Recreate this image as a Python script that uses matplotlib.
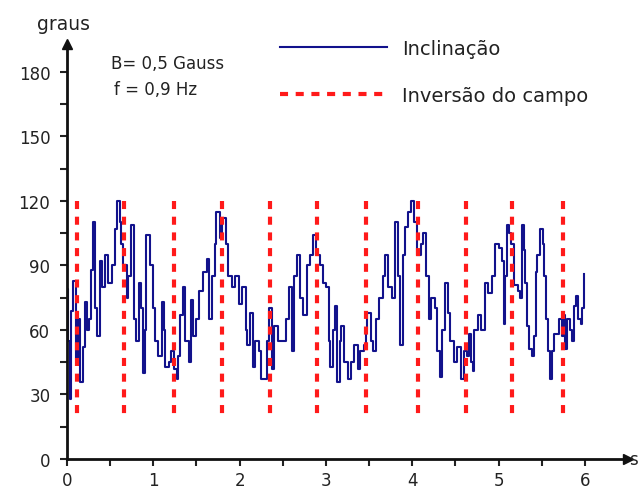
import matplotlib
matplotlib.use("Agg")
import matplotlib.pyplot as plt
import numpy as np

# tempo (s) e inclinacao (graus)
tempo = [0.00, 0.01, 0.03, 0.05, 0.07, 0.10, 0.13, 0.15, 0.18, 0.21, 0.23, 0.26, 0.28, 0.30,
         0.33, 0.35, 0.38, 0.40, 0.44, 0.48, 0.52, 0.56, 0.58, 0.61, 0.63, 0.65, 0.69, 0.71,
         0.74, 0.78, 0.80, 0.84, 0.86, 0.88, 0.90, 0.92, 0.96, 1.00, 1.02, 1.06, 1.10, 1.12,
         1.14, 1.18, 1.21, 1.24, 1.27, 1.29, 1.31, 1.34, 1.37, 1.41, 1.44, 1.46, 1.50, 1.53,
         1.57, 1.62, 1.65, 1.68, 1.71, 1.73, 1.77, 1.80, 1.84, 1.87, 1.91, 1.95, 1.99, 2.03,
         2.07, 2.09, 2.12, 2.15, 2.18, 2.22, 2.25, 2.30, 2.32, 2.34, 2.37, 2.40, 2.44, 2.51,
         2.54, 2.57, 2.61, 2.63, 2.66, 2.70, 2.74, 2.78, 2.81, 2.85, 2.89, 2.93, 2.97, 3.00,
         3.03, 3.05, 3.08, 3.11, 3.13, 3.16, 3.18, 3.21, 3.25, 3.29, 3.33, 3.37, 3.40, 3.44,
         3.46, 3.48, 3.52, 3.55, 3.58, 3.62, 3.66, 3.69, 3.72, 3.76, 3.80, 3.83, 3.86, 3.89,
         3.92, 3.95, 3.98, 4.02, 4.06, 4.10, 4.12, 4.16, 4.20, 4.22, 4.26, 4.29, 4.32, 4.35,
         4.38, 4.42, 4.44, 4.48, 4.52, 4.56, 4.60, 4.64, 4.66, 4.68, 4.70, 4.72, 4.76, 4.80,
         4.84, 4.88, 4.92, 4.96, 5.00, 5.04, 5.06, 5.08, 5.10, 5.12, 5.14, 5.18, 5.22, 5.25,
         5.27, 5.29, 5.31, 5.33, 5.35, 5.39, 5.41, 5.43, 5.45, 5.48, 5.51, 5.53, 5.55, 5.57,
         5.60, 5.62, 5.64, 5.68, 5.70, 5.74, 5.76, 5.77, 5.79, 5.83, 5.85, 5.87, 5.90, 5.92,
         5.95, 5.97, 5.99]
inclinacao = [79, 55, 28, 69, 83, 47, 65, 36, 52, 73, 60, 65, 88, 110,
              70, 57, 92, 80, 95, 82, 90, 107, 120, 110, 100, 90, 75, 85,
              109, 65, 55, 82, 70, 40, 60, 104, 90, 70, 55, 48, 73, 60,
              43, 45, 50, 42, 37, 48, 67, 80, 55, 45, 74, 57, 65, 78,
              87, 93, 65, 85, 100, 115, 103, 112, 100, 85, 80, 85, 72, 80,
              60, 53, 68, 43, 55, 50, 37, 37, 55, 70, 42, 62, 55, 55,
              65, 80, 50, 85, 95, 75, 67, 90, 95, 104, 95, 90, 82, 80,
              55, 43, 60, 71, 36, 55, 62, 45, 37, 45, 53, 42, 50, 53,
              60, 68, 55, 50, 65, 75, 85, 95, 80, 75, 110, 85, 53, 95,
              108, 115, 120, 110, 95, 100, 105, 85, 65, 75, 70, 50, 38, 60,
              82, 68, 55, 45, 52, 37, 50, 48, 58, 45, 41, 60, 67, 60,
              82, 77, 85, 100, 98, 92, 63, 85, 109, 105, 100, 81, 78, 75,
              109, 97, 82, 62, 51, 48, 57, 87, 95, 107, 100, 85, 65, 50,
              37, 50, 58, 58, 65, 57, 67, 51, 65, 60, 55, 71, 76, 65,
              63, 70, 86]

# instantes de inversao do campo (s)
inversoes = [0.12, 0.66, 1.24, 1.80, 2.35, 2.90, 3.47, 4.07, 4.62, 5.16, 5.75]

xticks = [0, 1, 2, 3, 4, 5, 6]
yticks = [0, 30, 60, 90, 120, 150, 180]

plt.rcParams['lines.scale_dashes'] = False
fig = plt.figure(figsize=(6.38, 4.89), dpi=100)
ax = fig.add_axes([67 / 638, 29 / 489, 561 / 638, 415 / 489])

azul = '#12128c'
vermelho = '#ff1a1a'
txt = '#222222'

ax.plot(tempo, inclinacao, color=azul, lw=1.5, drawstyle='steps-post', label='Inclinação')
for i, xv in enumerate(inversoes):
    ax.plot([xv, xv], [120, 20], color=vermelho, lw=3, dashes=(5.8, 5.5),
            label='Inversão do campo' if i == 0 else None)

ax.set_xlim(0, 6.5)
ax.set_ylim(0, 193)
ax.set_xticks(xticks)
ax.set_yticks(yticks)
ax.set_xticks(np.arange(0.5, 6.0, 1.0), minor=True)
ax.set_yticks(np.arange(15, 190, 30), minor=True)
ax.tick_params(which='both', direction='out', length=5, width=1.5, colors=txt,
               labelsize=12, pad=7)
ax.tick_params(axis='x', pad=4)

for s in ['top', 'right']:
    ax.spines[s].set_visible(False)
for s in ['left', 'bottom']:
    ax.spines[s].set_linewidth(2)
    ax.spines[s].set_color('#111111')
ax.plot(1, 0, '>', color='#111111', ms=7, transform=ax.transAxes, clip_on=False)
ax.plot(0, 1, '^', color='#111111', ms=7, transform=ax.transAxes, clip_on=False)

fig.text(64 / 638, 1 - 24 / 489, 'graus', ha='center', va='center', fontsize=13.5, color=txt)
fig.text(629 / 638, 1 - 460 / 489, 's', ha='left', va='center', fontsize=12, color=txt)
ax.text(0.51, 184, 'B= 0,5 Gauss', fontsize=12, color=txt, va='center')
ax.text(0.545, 172, 'f = 0,9 Hz', fontsize=12, color=txt, va='center')

ax.legend(loc='upper left', bbox_to_anchor=(280 / 638, 1 - 40 / 489),
          bbox_transform=fig.transFigure, frameon=False, fontsize=14,
          handlelength=5.5, handletextpad=0.8, labelspacing=1.45,
          borderpad=0, borderaxespad=0, labelcolor=txt)

fig.savefig('out.png', dpi=100)
